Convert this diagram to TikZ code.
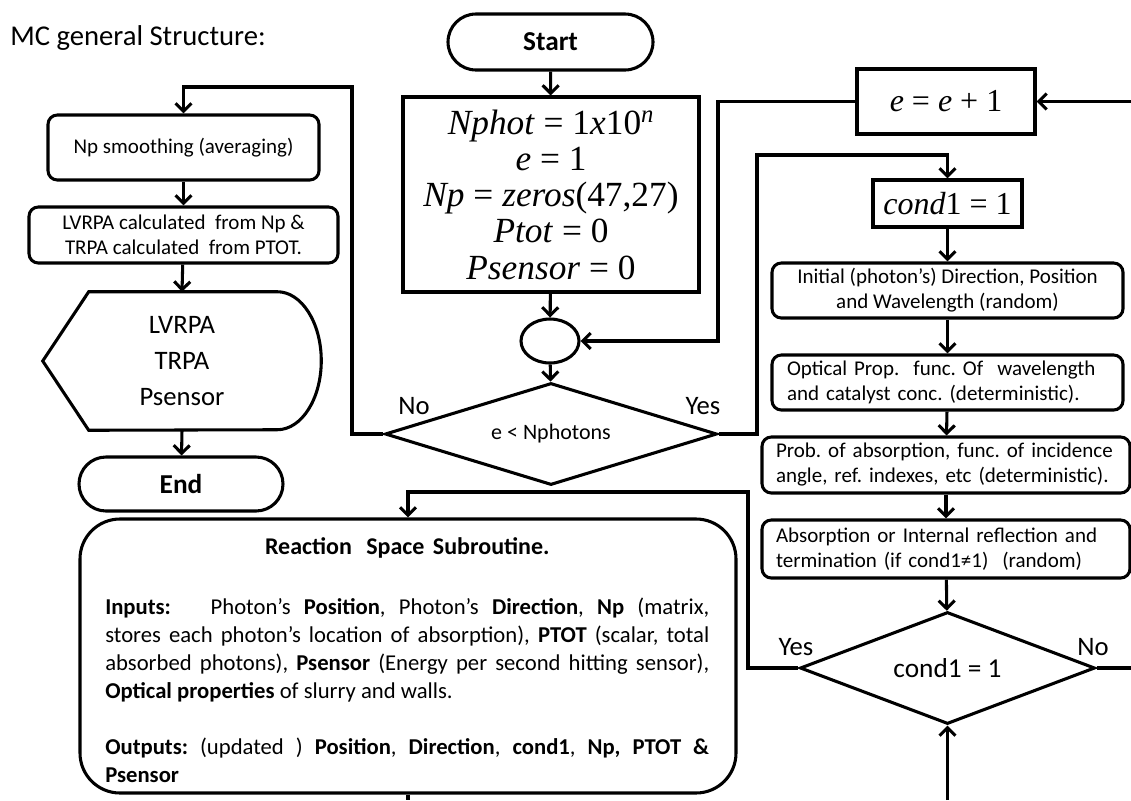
\documentclass[tikz,border=0pt]{standalone}
\usepackage{fontspec}
\setmainfont{Carlito}
\newfontfamily\tnr{Liberation Serif}
\usetikzlibrary{arrows.meta,shapes.geometric,shapes.misc}
\begin{document}
\frenchspacing
\begin{tikzpicture}[x=0.75pt,y=-0.75pt,
  ln/.style={line width=2.3pt},
  arr/.style={ln,-{Straight Barb[length=6pt,width=12pt]}},
  box/.style={draw,line width=2.3pt,inner sep=0pt,align=center},
  rbox/.style={box,rounded corners=7pt},
  small/.style={font=\fontsize{15.75}{18.75}\selectfont},
  big/.style={font=\fontsize{20}{27}\selectfont},
  bold/.style={font=\fontsize{20.5}{24}\selectfont\bfseries},
  math/.style={font=\tnr\fontsize{24}{26.6}\selectfont},
  lbl/.style={font=\fontsize{20}{24}\selectfont},
  dec/.style={draw,line width=2.3pt,diamond,inner sep=0pt}
]
\useasboundingbox (0,0) rectangle (1131,800);

% title
\node[anchor=base west,inner sep=0pt,font=\fontsize{21.5}{24}\selectfont] (title) at (10,45) {MC general Structure:};

% left column
\node[rbox,small,minimum width=271*0.75pt,minimum height=65*0.75pt] (smooth) at (183.5,147.5) {Np smoothing (averaging)};
\node[rbox,small,minimum width=309*0.75pt,minimum height=56*0.75pt] (lvrpa) at (183.5,235) {LVRPA calculated\ \ from Np \&\\TRPA calculated\ \ from PTOT.};
\node[inner sep=0pt,align=center,big,minimum width=278*0.75pt,minimum height=138*0.75pt] (disp) at (182,361) {LVRPA\\TRPA\\Psensor};
\draw[ln] (disp.west) -- ([xshift=34.5pt]disp.north west) -- ([xshift=-33pt]disp.north east)
  arc[start angle=90,end angle=-90,x radius=33pt,y radius=51.75pt]
  -- ([xshift=34.5pt]disp.south west) -- cycle;
\node[draw,ln,rounded rectangle,inner sep=0pt,bold,minimum width=204*0.75pt,minimum height=54*0.75pt] (end) at (181,484) {End};

% centre column
\node[draw,ln,rounded rectangle,inner sep=0pt,bold,minimum width=205*0.75pt,minimum height=56*0.75pt] (start) at (550.5,42) {Start};
\node[box,font=\tnr\fontsize{26.5}{27.2}\selectfont,minimum width=296*0.75pt,minimum height=195*0.75pt] (init) at (551,194.5)
  {\textit{Nphot} = 1\textit{x}10\textsuperscript{\textit{n}}\\ \textit{e} = 1\\ \textit{Np} = \textit{zeros}(47,27)\\ \textit{Ptot} = 0\\ \textit{Psensor} = 0};
\node[draw,ln,ellipse,inner sep=0pt,minimum width=58*0.75pt,minimum height=44*0.75pt] (circ) at (550,341) {};
\node[dec,aspect=3.25,font=\fontsize{16.5}{20}\selectfont,minimum width=332*0.75pt,minimum height=102*0.75pt] (dec1) at (551,434) {e < Nphotons};
\node[lbl,inner sep=0pt] (no1) at (414,406) {No};
\node[lbl,inner sep=0pt] (yes1) at (703,406) {Yes};

% right column
\node[box,math,minimum width=178*0.75pt,minimum height=65*0.75pt] (inc) at (946,101.5) {\textit{e} = \textit{e} + 1};
\node[box,math,minimum width=149*0.75pt,minimum height=47*0.75pt] (c1) at (947.5,203.5) {\textit{cond}1 = 1};
\node[rbox,small,minimum width=351*0.75pt,minimum height=55*0.75pt] (b1) at (947.5,290.5)
  {Initial (photon’s) Direction, Position\\and Wavelength (random)};
\node[rbox,small,align=left,text width=321*0.75pt,inner xsep=11.25pt,minimum height=55*0.75pt] (b2) at (947.5,382.5)
  {Optical Prop.\ \ func. Of\ \ wavelength\\and catalyst conc. (deterministic).};
\node[rbox,small,align=left,text width=340*0.75pt,inner xsep=10.5pt,minimum height=56*0.75pt] (b3) at (946,465)
  {Prob. of absorption, func. of incidence\\angle, ref. indexes, etc (deterministic).};
\node[rbox,small,align=left,text width=340*0.75pt,inner xsep=10.5pt,minimum height=58*0.75pt] (b4) at (946,549)
  {Absorption or Internal reflection and\\termination (if cond1≠1)\ \ (random)};
\node[dec,aspect=2.63,font=\fontsize{20.5}{24}\selectfont,minimum width=295*0.75pt,minimum height=112*0.75pt] (dec2) at (947.5,668) {cond1 = 1};
\node[lbl,inner sep=0pt] (yes2) at (796,647) {Yes};
\node[lbl,inner sep=0pt] (no2) at (1093,647) {No};

% subroutine
\node[draw,ln,rounded corners=30pt,inner sep=0pt,minimum width=656*0.75pt,minimum height=274*0.75pt] (sub) at (408,656) {};
\node[anchor=north west,inner sep=0pt,text width=453pt,align=justify,font=\fontsize{17}{21}\selectfont] (subtxt) at (105,537)
  {{\centering\bfseries\fontsize{18}{21}\selectfont Reaction\hspace{0.6em}Space\hspace{0.35em}Subroutine.\par}\vspace{24pt}
   \textbf{Inputs:}\ \ \ Photon’s \textbf{Position}, Photon’s \textbf{Direction}, \textbf{Np} (matrix,\linebreak
   stores each photon’s location of absorption), \textbf{PTOT} (scalar, total\linebreak
   absorbed photons), \textbf{Psensor} (Energy per second hitting sensor),\linebreak
   \textbf{Optical properties} of slurry and walls.\par\vspace{21.5pt}
   \textbf{Outputs:} (updated ) \textbf{Position}, \textbf{Direction}, \textbf{cond1}, \textbf{Np, PTOT \&}\linebreak
   \textbf{Psensor}\par};

% helper coordinates
\coordinate (nL) at (352,87);
\coordinate (yR) at (757,155);
\coordinate (iL) at (718,101.5);
\coordinate (rE1) at (1131,101.5);
\coordinate (rE2) at (1131,668);
\coordinate (yB) at (748,492);
\coordinate (bS) at (408,800);
\coordinate (bR) at (947.5,800);

% connectors
\draw[arr] (start) -- (init);
\draw[arr] (init) -- (circ);
\draw[arr] (circ) -- (dec1);
\draw[arr] (dec1.west) -| (nL) -| (smooth.north);
\draw[arr] (smooth) -- (lvrpa);
\draw[arr] (lvrpa) -- (disp.north);
\draw[arr] (disp.south) -- (end);
\draw[arr] (dec1.east) -| (yR) -| (c1.north);
\draw[arr] (inc.west) -- (iL) |- (circ.east);
\draw[arr] (rE1) -- (inc.east);
\draw[arr] (c1) -- (b1);
\draw[arr] (b1) -- (b2);
\draw[arr] (b2) -- (b3);
\draw[arr] (b3) -- (b4);
\draw[arr] (b4) -- (dec2);
\draw[ln] (dec2.east) -- (rE2);
\draw[arr] (dec2.west) -| (yB) -| (sub.north);
\draw[ln] (sub.south) -- (bS);
\draw[arr] (bR) -- (dec2.south);
\end{tikzpicture}
\end{document}
